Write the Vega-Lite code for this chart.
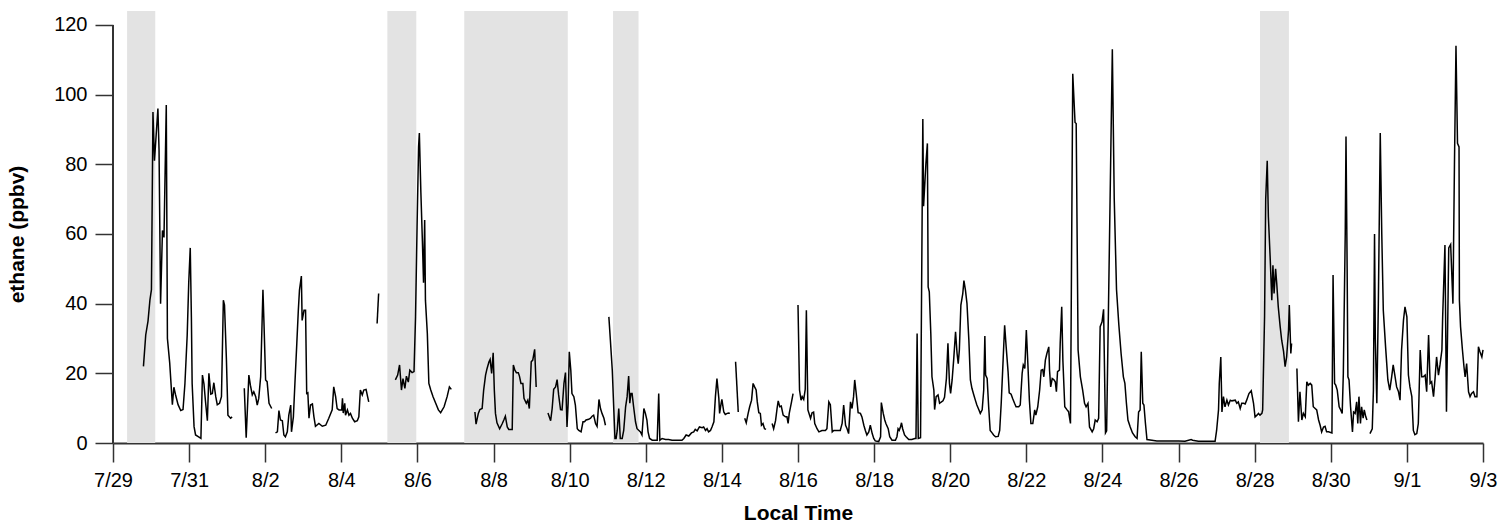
{
  "$schema": "https://vega.github.io/schema/vega-lite/v6.json",
  "width": 1370,
  "height": 432,
  "autosize": {"type": "none"},
  "padding": {"left": 113, "top": 11, "right": 29, "bottom": 84},
  "background": "white",
  "config": {"view": {"stroke": null}, "font": "Liberation Sans"},
  "datasets": {
    "shade": [
      {"start": 0.37, "end": 1.11},
      {"start": 7.21, "end": 7.97},
      {"start": 9.23, "end": 11.95},
      {"start": 13.14, "end": 13.81},
      {"start": 30.14, "end": 30.9}
    ],
    "yline": [{"day": 0, "lo": 0, "hi": 120}],
    "ethane": [
      {"seg":1,"day":0.80,"ppbv":22},{"seg":1,"day":0.86,"ppbv":31},{"seg":1,"day":0.92,"ppbv":35},{"seg":1,"day":0.97,"ppbv":41},{"seg":1,"day":1.01,"ppbv":44},{"seg":1,"day":1.05,"ppbv":95},{"seg":1,"day":1.09,"ppbv":81},{"seg":1,"day":1.18,"ppbv":96},{"seg":1,"day":1.21,"ppbv":84},{"seg":1,"day":1.25,"ppbv":40},{"seg":1,"day":1.30,"ppbv":61},{"seg":1,"day":1.34,"ppbv":59},{"seg":1,"day":1.40,"ppbv":97},{"seg":1,"day":1.43,"ppbv":30},{"seg":1,"day":1.49,"ppbv":23},{"seg":1,"day":1.56,"ppbv":11},{"seg":1,"day":1.60,"ppbv":16},{"seg":1,"day":1.64,"ppbv":14},{"seg":1,"day":1.71,"ppbv":11},{"seg":1,"day":1.78,"ppbv":9.3},{"seg":1,"day":1.84,"ppbv":9.6},{"seg":1,"day":1.89,"ppbv":17},{"seg":1,"day":1.95,"ppbv":31},{"seg":1,"day":1.99,"ppbv":46},{"seg":1,"day":2.03,"ppbv":56},{"seg":1,"day":2.06,"ppbv":36},{"seg":1,"day":2.08,"ppbv":17},{"seg":1,"day":2.13,"ppbv":4.7},{"seg":1,"day":2.17,"ppbv":2.3},{"seg":1,"day":2.24,"ppbv":1.8},{"seg":1,"day":2.31,"ppbv":1.3},{"seg":1,"day":2.35,"ppbv":19.5},{"seg":1,"day":2.39,"ppbv":17},{"seg":1,"day":2.43,"ppbv":12},{"seg":1,"day":2.48,"ppbv":6.4},{"seg":1,"day":2.52,"ppbv":20},{"seg":1,"day":2.57,"ppbv":14},{"seg":1,"day":2.61,"ppbv":14.2},{"seg":1,"day":2.65,"ppbv":17.3},{"seg":1,"day":2.70,"ppbv":13.3},{"seg":1,"day":2.74,"ppbv":11},{"seg":1,"day":2.80,"ppbv":11.4},{"seg":1,"day":2.85,"ppbv":13.3},{"seg":1,"day":2.90,"ppbv":41},{"seg":1,"day":2.93,"ppbv":39.6},{"seg":1,"day":2.98,"ppbv":24},{"seg":1,"day":3.02,"ppbv":8},{"seg":1,"day":3.09,"ppbv":7.1},{"seg":1,"day":3.13,"ppbv":7.5},
      {"seg":2,"day":3.45,"ppbv":15.7},{"seg":2,"day":3.50,"ppbv":1.5},{"seg":2,"day":3.57,"ppbv":19.5},{"seg":2,"day":3.61,"ppbv":16.6},{"seg":2,"day":3.66,"ppbv":13.8},{"seg":2,"day":3.70,"ppbv":14.7},{"seg":2,"day":3.75,"ppbv":13.3},{"seg":2,"day":3.79,"ppbv":10.9},{"seg":2,"day":3.83,"ppbv":12.8},{"seg":2,"day":3.88,"ppbv":19},{"seg":2,"day":3.94,"ppbv":44},{"seg":2,"day":3.97,"ppbv":33.4},{"seg":2,"day":4.01,"ppbv":18.1},{"seg":2,"day":4.05,"ppbv":17.6},{"seg":2,"day":4.10,"ppbv":11.4},{"seg":2,"day":4.17,"ppbv":9.9},
      {"seg":3,"day":4.27,"ppbv":2.9},{"seg":3,"day":4.32,"ppbv":3.2},{"seg":3,"day":4.36,"ppbv":9.3},{"seg":3,"day":4.40,"ppbv":6.6},{"seg":3,"day":4.45,"ppbv":6.4},{"seg":3,"day":4.49,"ppbv":2.3},{"seg":3,"day":4.53,"ppbv":1.8},{"seg":3,"day":4.58,"ppbv":3.2},{"seg":3,"day":4.62,"ppbv":8},{"seg":3,"day":4.67,"ppbv":10.9},{"seg":3,"day":4.69,"ppbv":3.2},{"seg":3,"day":4.74,"ppbv":7.5},{"seg":3,"day":4.78,"ppbv":17.1},{"seg":3,"day":4.83,"ppbv":28.6},{"seg":3,"day":4.87,"ppbv":38.1},{"seg":3,"day":4.90,"ppbv":43.9},{"seg":3,"day":4.95,"ppbv":47.9},{"seg":3,"day":4.97,"ppbv":35.2},{"seg":3,"day":5.02,"ppbv":38.1},{"seg":3,"day":5.06,"ppbv":38.1},{"seg":3,"day":5.09,"ppbv":14.2},{"seg":3,"day":5.12,"ppbv":14.4},{"seg":3,"day":5.15,"ppbv":7.1},{"seg":3,"day":5.19,"ppbv":10.9},{"seg":3,"day":5.24,"ppbv":11.2},{"seg":3,"day":5.28,"ppbv":7.5},{"seg":3,"day":5.32,"ppbv":4.8},{"seg":3,"day":5.41,"ppbv":5.6},{"seg":3,"day":5.50,"ppbv":4.8},{"seg":3,"day":5.59,"ppbv":5.1},{"seg":3,"day":5.67,"ppbv":7.1},{"seg":3,"day":5.76,"ppbv":9.5},{"seg":3,"day":5.80,"ppbv":16.1},{"seg":3,"day":5.85,"ppbv":13.3},{"seg":3,"day":5.89,"ppbv":9.9},{"seg":3,"day":5.94,"ppbv":9.5},{"seg":3,"day":6.01,"ppbv":9.5},{"seg":3,"day":6.03,"ppbv":12.8},{"seg":3,"day":6.05,"ppbv":8.6},{"seg":3,"day":6.09,"ppbv":11.4},{"seg":3,"day":6.11,"ppbv":8},{"seg":3,"day":6.16,"ppbv":9.5},{"seg":3,"day":6.20,"ppbv":8},{"seg":3,"day":6.24,"ppbv":8.5},{"seg":3,"day":6.29,"ppbv":7.1},{"seg":3,"day":6.35,"ppbv":6.1},{"seg":3,"day":6.42,"ppbv":6.4},{"seg":3,"day":6.46,"ppbv":7.5},{"seg":3,"day":6.50,"ppbv":15.2},{"seg":3,"day":6.55,"ppbv":13.8},{"seg":3,"day":6.59,"ppbv":15.2},{"seg":3,"day":6.65,"ppbv":15.4},{"seg":3,"day":6.69,"ppbv":13.3},{"seg":3,"day":6.72,"ppbv":11.8},
      {"seg":4,"day":6.94,"ppbv":34.3},{"seg":4,"day":6.98,"ppbv":42.9},
      {"seg":5,"day":7.42,"ppbv":18.1},{"seg":5,"day":7.48,"ppbv":19.5},{"seg":5,"day":7.53,"ppbv":22.4},{"seg":5,"day":7.58,"ppbv":15.2},{"seg":5,"day":7.62,"ppbv":18.5},{"seg":5,"day":7.67,"ppbv":15.7},{"seg":5,"day":7.71,"ppbv":19.2},{"seg":5,"day":7.76,"ppbv":17.5},{"seg":5,"day":7.80,"ppbv":20.9},{"seg":5,"day":7.86,"ppbv":20.2},{"seg":5,"day":7.91,"ppbv":20.5},{"seg":5,"day":7.95,"ppbv":36.2},{"seg":5,"day":7.99,"ppbv":62},{"seg":5,"day":8.03,"ppbv":85},{"seg":5,"day":8.05,"ppbv":89},{"seg":5,"day":8.09,"ppbv":72},{"seg":5,"day":8.13,"ppbv":58},{"seg":5,"day":8.16,"ppbv":46},{"seg":5,"day":8.19,"ppbv":64},{"seg":5,"day":8.21,"ppbv":41},{"seg":5,"day":8.26,"ppbv":31.4},{"seg":5,"day":8.30,"ppbv":17.1},{"seg":5,"day":8.35,"ppbv":15.2},{"seg":5,"day":8.41,"ppbv":13.3},{"seg":5,"day":8.48,"ppbv":11.4},{"seg":5,"day":8.55,"ppbv":9.5},{"seg":5,"day":8.61,"ppbv":8.7},{"seg":5,"day":8.70,"ppbv":10.4},{"seg":5,"day":8.78,"ppbv":13.3},{"seg":5,"day":8.84,"ppbv":16.1},{"seg":5,"day":8.89,"ppbv":15.4},
      {"seg":6,"day":9.51,"ppbv":8.9},{"seg":6,"day":9.54,"ppbv":5.4},{"seg":6,"day":9.60,"ppbv":8.5},{"seg":6,"day":9.64,"ppbv":9.6},{"seg":6,"day":9.70,"ppbv":9.9},{"seg":6,"day":9.74,"ppbv":15.2},{"seg":6,"day":9.79,"ppbv":19.5},{"seg":6,"day":9.83,"ppbv":21.4},{"seg":6,"day":9.88,"ppbv":23.3},{"seg":6,"day":9.91,"ppbv":24},{"seg":6,"day":9.95,"ppbv":20},{"seg":6,"day":9.99,"ppbv":25.9},{"seg":6,"day":10.02,"ppbv":15.2},{"seg":6,"day":10.05,"ppbv":8.5},{"seg":6,"day":10.09,"ppbv":5.8},{"seg":6,"day":10.16,"ppbv":4.1},{"seg":6,"day":10.23,"ppbv":5.6},{"seg":6,"day":10.27,"ppbv":6.6},{"seg":6,"day":10.31,"ppbv":7.7},{"seg":6,"day":10.36,"ppbv":4.6},{"seg":6,"day":10.40,"ppbv":3.9},{"seg":6,"day":10.49,"ppbv":3.9},{"seg":6,"day":10.52,"ppbv":22.4},{"seg":6,"day":10.56,"ppbv":20.9},{"seg":6,"day":10.60,"ppbv":20.2},{"seg":6,"day":10.65,"ppbv":20.2},{"seg":6,"day":10.68,"ppbv":19.2},{"seg":6,"day":10.72,"ppbv":17.1},{"seg":6,"day":10.77,"ppbv":17.1},{"seg":6,"day":10.80,"ppbv":12.8},{"seg":6,"day":10.86,"ppbv":11.4},{"seg":6,"day":10.90,"ppbv":12.3},{"seg":6,"day":10.94,"ppbv":9.9},{"seg":6,"day":10.99,"ppbv":23.3},{"seg":6,"day":11.03,"ppbv":23.8},{"seg":6,"day":11.08,"ppbv":26.9},{"seg":6,"day":11.12,"ppbv":16.1},
      {"seg":7,"day":11.43,"ppbv":8.6},{"seg":7,"day":11.50,"ppbv":6.4},{"seg":7,"day":11.54,"ppbv":9.9},{"seg":7,"day":11.58,"ppbv":15.4},{"seg":7,"day":11.63,"ppbv":16.1},{"seg":7,"day":11.67,"ppbv":18.2},{"seg":7,"day":11.71,"ppbv":13.8},{"seg":7,"day":11.76,"ppbv":9.6},{"seg":7,"day":11.80,"ppbv":9.5},{"seg":7,"day":11.85,"ppbv":17.1},{"seg":7,"day":11.89,"ppbv":20.2},{"seg":7,"day":11.93,"ppbv":4.6},{"seg":7,"day":11.96,"ppbv":11.4},{"seg":7,"day":11.99,"ppbv":26.2},{"seg":7,"day":12.03,"ppbv":20.9},{"seg":7,"day":12.06,"ppbv":14.2},{"seg":7,"day":12.11,"ppbv":13.3},{"seg":7,"day":12.15,"ppbv":10.9},{"seg":7,"day":12.20,"ppbv":4.1},{"seg":7,"day":12.24,"ppbv":3.6},{"seg":7,"day":12.30,"ppbv":3.2},{"seg":7,"day":12.35,"ppbv":6.1},{"seg":7,"day":12.39,"ppbv":6.1},{"seg":7,"day":12.43,"ppbv":6.6},{"seg":7,"day":12.50,"ppbv":6.8},{"seg":7,"day":12.55,"ppbv":7.1},{"seg":7,"day":12.59,"ppbv":7.7},{"seg":7,"day":12.63,"ppbv":8},{"seg":7,"day":12.68,"ppbv":5.6},{"seg":7,"day":12.72,"ppbv":4.8},{"seg":7,"day":12.77,"ppbv":12.5},{"seg":7,"day":12.81,"ppbv":9.9},{"seg":7,"day":12.85,"ppbv":8.5},{"seg":7,"day":12.90,"ppbv":7.1},{"seg":7,"day":12.94,"ppbv":5.1},
      {"seg":8,"day":13.03,"ppbv":36.2},{"seg":8,"day":13.07,"ppbv":29.5},{"seg":8,"day":13.12,"ppbv":20.9},{"seg":8,"day":13.16,"ppbv":9.5},{"seg":8,"day":13.19,"ppbv":1.3},{"seg":8,"day":13.22,"ppbv":1.3},{"seg":8,"day":13.25,"ppbv":3.6},{"seg":8,"day":13.29,"ppbv":9.9},{"seg":8,"day":13.33,"ppbv":1.3},{"seg":8,"day":13.38,"ppbv":1.3},{"seg":8,"day":13.42,"ppbv":3.6},{"seg":8,"day":13.47,"ppbv":10.4},{"seg":8,"day":13.51,"ppbv":13.3},{"seg":8,"day":13.55,"ppbv":19.2},{"seg":8,"day":13.58,"ppbv":11.4},{"seg":8,"day":13.61,"ppbv":14.2},{"seg":8,"day":13.64,"ppbv":14.2},{"seg":8,"day":13.68,"ppbv":10.4},{"seg":8,"day":13.73,"ppbv":6.1},{"seg":8,"day":13.77,"ppbv":4.1},{"seg":8,"day":13.82,"ppbv":3.6},{"seg":8,"day":13.86,"ppbv":3.2},{"seg":8,"day":13.90,"ppbv":2.3},{"seg":8,"day":13.95,"ppbv":9.9},{"seg":8,"day":13.99,"ppbv":8.5},{"seg":8,"day":14.03,"ppbv":6.6},{"seg":8,"day":14.06,"ppbv":3.2},{"seg":8,"day":14.10,"ppbv":1.3},{"seg":8,"day":14.17,"ppbv":0.8},{"seg":8,"day":14.24,"ppbv":0.8},{"seg":8,"day":14.30,"ppbv":0.8},{"seg":8,"day":14.34,"ppbv":14.2},{"seg":8,"day":14.37,"ppbv":0.8},{"seg":8,"day":14.43,"ppbv":1.3},{"seg":8,"day":14.52,"ppbv":1.0},{"seg":8,"day":14.60,"ppbv":1.0},{"seg":8,"day":14.69,"ppbv":0.8},{"seg":8,"day":14.78,"ppbv":0.8},{"seg":8,"day":14.87,"ppbv":0.8},{"seg":8,"day":14.95,"ppbv":0.8},{"seg":8,"day":15.00,"ppbv":1.3},{"seg":8,"day":15.06,"ppbv":2.3},{"seg":8,"day":15.13,"ppbv":2.0},{"seg":8,"day":15.20,"ppbv":2.9},{"seg":8,"day":15.26,"ppbv":3.2},{"seg":8,"day":15.30,"ppbv":3.9},{"seg":8,"day":15.35,"ppbv":3.5},{"seg":8,"day":15.41,"ppbv":4.6},{"seg":8,"day":15.48,"ppbv":4.4},{"seg":8,"day":15.52,"ppbv":4.6},{"seg":8,"day":15.57,"ppbv":3.6},{"seg":8,"day":15.61,"ppbv":4.1},{"seg":8,"day":15.65,"ppbv":3.2},{"seg":8,"day":15.70,"ppbv":3.6},{"seg":8,"day":15.74,"ppbv":4.6},{"seg":8,"day":15.79,"ppbv":6.1},{"seg":8,"day":15.83,"ppbv":13.3},{"seg":8,"day":15.87,"ppbv":18.5},{"seg":8,"day":15.92,"ppbv":12.8},{"seg":8,"day":15.94,"ppbv":8.5},{"seg":8,"day":15.98,"ppbv":11.4},{"seg":8,"day":16.00,"ppbv":12.5},{"seg":8,"day":16.05,"ppbv":8.9},{"seg":8,"day":16.09,"ppbv":8.2},{"seg":8,"day":16.14,"ppbv":8.5},{"seg":8,"day":16.18,"ppbv":8.6},{"seg":8,"day":16.21,"ppbv":8.5},
      {"seg":9,"day":16.36,"ppbv":23.3},{"seg":9,"day":16.43,"ppbv":8.9},
      {"seg":10,"day":16.60,"ppbv":7.1},{"seg":10,"day":16.64,"ppbv":5.8},{"seg":10,"day":16.69,"ppbv":8.5},{"seg":10,"day":16.73,"ppbv":10.4},{"seg":10,"day":16.78,"ppbv":12.3},{"seg":10,"day":16.82,"ppbv":17.1},{"seg":10,"day":16.86,"ppbv":16.1},{"seg":10,"day":16.90,"ppbv":15.2},{"seg":10,"day":16.93,"ppbv":11.8},{"seg":10,"day":16.97,"ppbv":8.7},{"seg":10,"day":17.01,"ppbv":8.5},{"seg":10,"day":17.04,"ppbv":5.1},{"seg":10,"day":17.08,"ppbv":5.6},{"seg":10,"day":17.12,"ppbv":4.1},{"seg":10,"day":17.16,"ppbv":3.9},
      {"seg":11,"day":17.32,"ppbv":5.6},{"seg":11,"day":17.36,"ppbv":4.1},{"seg":11,"day":17.41,"ppbv":6.4},{"seg":11,"day":17.45,"ppbv":9.9},{"seg":11,"day":17.48,"ppbv":12.1},{"seg":11,"day":17.52,"ppbv":10.4},{"seg":11,"day":17.56,"ppbv":10.6},{"seg":11,"day":17.61,"ppbv":8},{"seg":11,"day":17.67,"ppbv":7.5},{"seg":11,"day":17.71,"ppbv":7.5},{"seg":11,"day":17.74,"ppbv":5.6},{"seg":11,"day":17.77,"ppbv":8.5},{"seg":11,"day":17.83,"ppbv":11.8},{"seg":11,"day":17.87,"ppbv":14.2},
      {"seg":12,"day":18.00,"ppbv":39.6},{"seg":12,"day":18.04,"ppbv":15.2},{"seg":12,"day":18.08,"ppbv":12.3},{"seg":12,"day":18.11,"ppbv":13.3},{"seg":12,"day":18.15,"ppbv":12.5},{"seg":12,"day":18.19,"ppbv":15.4},{"seg":12,"day":18.22,"ppbv":38.1},{"seg":12,"day":18.26,"ppbv":9.5},{"seg":12,"day":18.33,"ppbv":7.1},{"seg":12,"day":18.37,"ppbv":8.7},{"seg":12,"day":18.41,"ppbv":8.9},{"seg":12,"day":18.44,"ppbv":5.6},{"seg":12,"day":18.50,"ppbv":4.1},{"seg":12,"day":18.55,"ppbv":3.2},{"seg":12,"day":18.63,"ppbv":3.6},{"seg":12,"day":18.72,"ppbv":3.6},{"seg":12,"day":18.76,"ppbv":4.1},{"seg":12,"day":18.81,"ppbv":11.8},{"seg":12,"day":18.85,"ppbv":11.0},{"seg":12,"day":18.90,"ppbv":3.2},{"seg":12,"day":18.94,"ppbv":3.6},{"seg":12,"day":19.03,"ppbv":3.6},{"seg":12,"day":19.11,"ppbv":3.6},{"seg":12,"day":19.16,"ppbv":5.6},{"seg":12,"day":19.20,"ppbv":10.9},{"seg":12,"day":19.25,"ppbv":5.1},{"seg":12,"day":19.29,"ppbv":4.1},{"seg":12,"day":19.33,"ppbv":2.7},{"seg":12,"day":19.38,"ppbv":11.8},{"seg":12,"day":19.42,"ppbv":9.9},{"seg":12,"day":19.46,"ppbv":13.3},{"seg":12,"day":19.49,"ppbv":18.1},{"seg":12,"day":19.53,"ppbv":14.2},{"seg":12,"day":19.58,"ppbv":8.7},{"seg":12,"day":19.64,"ppbv":8.5},{"seg":12,"day":19.68,"ppbv":7.5},{"seg":12,"day":19.73,"ppbv":5.1},{"seg":12,"day":19.77,"ppbv":3.6},{"seg":12,"day":19.81,"ppbv":2.3},{"seg":12,"day":19.86,"ppbv":3.2},{"seg":12,"day":19.90,"ppbv":5.1},{"seg":12,"day":19.95,"ppbv":2.7},{"seg":12,"day":19.99,"ppbv":1.3},{"seg":12,"day":20.03,"ppbv":0.6},{"seg":12,"day":20.12,"ppbv":0.4},{"seg":12,"day":20.17,"ppbv":1.8},{"seg":12,"day":20.19,"ppbv":11.6},{"seg":12,"day":20.24,"ppbv":8.5},{"seg":12,"day":20.28,"ppbv":6.6},{"seg":12,"day":20.31,"ppbv":5.6},{"seg":12,"day":20.37,"ppbv":4.1},{"seg":12,"day":20.41,"ppbv":1.8},{"seg":12,"day":20.47,"ppbv":0.8},{"seg":12,"day":20.56,"ppbv":0.8},{"seg":12,"day":20.60,"ppbv":1.8},{"seg":12,"day":20.63,"ppbv":4.1},{"seg":12,"day":20.66,"ppbv":3.6},{"seg":12,"day":20.69,"ppbv":4.5},{"seg":12,"day":20.72,"ppbv":5.8},{"seg":12,"day":20.75,"ppbv":4.1},{"seg":12,"day":20.80,"ppbv":2.3},{"seg":12,"day":20.84,"ppbv":1.8},{"seg":12,"day":20.91,"ppbv":1.0},{"seg":12,"day":20.99,"ppbv":1.0},{"seg":12,"day":21.07,"ppbv":1.3},{"seg":12,"day":21.10,"ppbv":1.3},{"seg":12,"day":21.13,"ppbv":31.4},{"seg":12,"day":21.16,"ppbv":1.3},{"seg":12,"day":21.22,"ppbv":1.5},{"seg":12,"day":21.28,"ppbv":93},{"seg":12,"day":21.30,"ppbv":68},{"seg":12,"day":21.36,"ppbv":80},{"seg":12,"day":21.40,"ppbv":86},{"seg":12,"day":21.42,"ppbv":44.8},{"seg":12,"day":21.45,"ppbv":43.4},{"seg":12,"day":21.49,"ppbv":31.4},{"seg":12,"day":21.52,"ppbv":19},{"seg":12,"day":21.57,"ppbv":15.2},{"seg":12,"day":21.59,"ppbv":9.6},{"seg":12,"day":21.63,"ppbv":13.3},{"seg":12,"day":21.68,"ppbv":13.8},{"seg":12,"day":21.72,"ppbv":11.4},{"seg":12,"day":21.77,"ppbv":11.8},{"seg":12,"day":21.81,"ppbv":12.1},{"seg":12,"day":21.85,"ppbv":13.1},{"seg":12,"day":21.90,"ppbv":18.5},{"seg":12,"day":21.94,"ppbv":28.6},{"seg":12,"day":21.98,"ppbv":17.1},{"seg":12,"day":22.01,"ppbv":14.2},{"seg":12,"day":22.05,"ppbv":18.1},{"seg":12,"day":22.09,"ppbv":23.8},{"seg":12,"day":22.14,"ppbv":31.9},{"seg":12,"day":22.18,"ppbv":25.7},{"seg":12,"day":22.21,"ppbv":22.8},{"seg":12,"day":22.24,"ppbv":26.7},{"seg":12,"day":22.28,"ppbv":39.6},{"seg":12,"day":22.33,"ppbv":42.9},{"seg":12,"day":22.36,"ppbv":46.6},{"seg":12,"day":22.40,"ppbv":43.9},{"seg":12,"day":22.44,"ppbv":40.1},{"seg":12,"day":22.49,"ppbv":29.5},{"seg":12,"day":22.53,"ppbv":18.1},{"seg":12,"day":22.57,"ppbv":15.7},{"seg":12,"day":22.62,"ppbv":13.8},{"seg":12,"day":22.66,"ppbv":12.3},{"seg":12,"day":22.70,"ppbv":10.9},{"seg":12,"day":22.75,"ppbv":9.6},{"seg":12,"day":22.79,"ppbv":8.5},{"seg":12,"day":22.84,"ppbv":9.5},{"seg":12,"day":22.88,"ppbv":15.2},{"seg":12,"day":22.91,"ppbv":30.7},{"seg":12,"day":22.93,"ppbv":19.5},{"seg":12,"day":22.97,"ppbv":18.5},{"seg":12,"day":23.01,"ppbv":10.4},{"seg":12,"day":23.05,"ppbv":3.6},{"seg":12,"day":23.10,"ppbv":2.9},{"seg":12,"day":23.14,"ppbv":2.3},{"seg":12,"day":23.19,"ppbv":1.8},{"seg":12,"day":23.26,"ppbv":1.9},{"seg":12,"day":23.30,"ppbv":3.6},{"seg":12,"day":23.34,"ppbv":11.4},{"seg":12,"day":23.39,"ppbv":23.8},{"seg":12,"day":23.43,"ppbv":33.8},{"seg":12,"day":23.47,"ppbv":27.6},{"seg":12,"day":23.52,"ppbv":20.5},{"seg":12,"day":23.55,"ppbv":14.4},{"seg":12,"day":23.60,"ppbv":14.0},{"seg":12,"day":23.64,"ppbv":12.8},{"seg":12,"day":23.69,"ppbv":11.4},{"seg":12,"day":23.73,"ppbv":10.4},{"seg":12,"day":23.80,"ppbv":10.4},{"seg":12,"day":23.84,"ppbv":10.9},{"seg":12,"day":23.89,"ppbv":20},{"seg":12,"day":23.92,"ppbv":22.4},{"seg":12,"day":23.96,"ppbv":21.4},{"seg":12,"day":24.00,"ppbv":32.4},{"seg":12,"day":24.04,"ppbv":22.8},{"seg":12,"day":24.08,"ppbv":12.3},{"seg":12,"day":24.12,"ppbv":5.6},{"seg":12,"day":24.17,"ppbv":5.6},{"seg":12,"day":24.22,"ppbv":9.5},{"seg":12,"day":24.25,"ppbv":8},{"seg":12,"day":24.30,"ppbv":10.4},{"seg":12,"day":24.35,"ppbv":15.2},{"seg":12,"day":24.39,"ppbv":20.9},{"seg":12,"day":24.43,"ppbv":21.1},{"seg":12,"day":24.46,"ppbv":19},{"seg":12,"day":24.50,"ppbv":23.8},{"seg":12,"day":24.54,"ppbv":25.7},{"seg":12,"day":24.59,"ppbv":27.6},{"seg":12,"day":24.61,"ppbv":20.9},{"seg":12,"day":24.64,"ppbv":16.1},{"seg":12,"day":24.68,"ppbv":18.5},{"seg":12,"day":24.72,"ppbv":18.2},{"seg":12,"day":24.76,"ppbv":17.6},{"seg":12,"day":24.79,"ppbv":14.7},{"seg":12,"day":24.82,"ppbv":20.5},{"seg":12,"day":24.87,"ppbv":20.9},{"seg":12,"day":24.89,"ppbv":28.6},{"seg":12,"day":24.93,"ppbv":39.1},{"seg":12,"day":24.96,"ppbv":23.8},{"seg":12,"day":25.01,"ppbv":10.4},{"seg":12,"day":25.07,"ppbv":9.5},{"seg":12,"day":25.11,"ppbv":9},{"seg":12,"day":25.16,"ppbv":5.6},{"seg":12,"day":25.22,"ppbv":106},{"seg":12,"day":25.28,"ppbv":92},{"seg":12,"day":25.31,"ppbv":91.7},{"seg":12,"day":25.36,"ppbv":26.7},{"seg":12,"day":25.42,"ppbv":19},{"seg":12,"day":25.48,"ppbv":15.2},{"seg":12,"day":25.53,"ppbv":11.4},{"seg":12,"day":25.57,"ppbv":10.4},{"seg":12,"day":25.62,"ppbv":11.4},{"seg":12,"day":25.66,"ppbv":4.6},{"seg":12,"day":25.73,"ppbv":3.2},{"seg":12,"day":25.77,"ppbv":4.1},{"seg":12,"day":25.81,"ppbv":6.6},{"seg":12,"day":25.86,"ppbv":6.1},{"seg":12,"day":25.90,"ppbv":7.1},{"seg":12,"day":25.94,"ppbv":33.4},{"seg":12,"day":25.99,"ppbv":34.8},{"seg":12,"day":26.03,"ppbv":38.4},{"seg":12,"day":26.08,"ppbv":2.9},{"seg":12,"day":26.11,"ppbv":3.5},{"seg":12,"day":26.26,"ppbv":113},{"seg":12,"day":26.31,"ppbv":70},{"seg":12,"day":26.37,"ppbv":44},{"seg":12,"day":26.43,"ppbv":34},{"seg":12,"day":26.49,"ppbv":25.7},{"seg":12,"day":26.55,"ppbv":19},{"seg":12,"day":26.59,"ppbv":17.1},{"seg":12,"day":26.63,"ppbv":11.4},{"seg":12,"day":26.67,"ppbv":6.6},{"seg":12,"day":26.73,"ppbv":4.6},{"seg":12,"day":26.79,"ppbv":2.9},{"seg":12,"day":26.86,"ppbv":1.8},{"seg":12,"day":26.91,"ppbv":1.3},{"seg":12,"day":26.95,"ppbv":8.9},{"seg":12,"day":26.99,"ppbv":9.5},{"seg":12,"day":27.02,"ppbv":26.2},{"seg":12,"day":27.06,"ppbv":11.4},{"seg":12,"day":27.09,"ppbv":10.9},{"seg":12,"day":27.13,"ppbv":5.6},{"seg":12,"day":27.17,"ppbv":1.0},{"seg":12,"day":27.30,"ppbv":0.8},{"seg":12,"day":27.43,"ppbv":0.6},{"seg":12,"day":27.56,"ppbv":0.6},{"seg":12,"day":28.00,"ppbv":0.6},{"seg":12,"day":28.17,"ppbv":0.5},{"seg":12,"day":28.33,"ppbv":1.0},{"seg":12,"day":28.37,"ppbv":0.8},{"seg":12,"day":28.52,"ppbv":0.5},{"seg":12,"day":28.70,"ppbv":0.5},{"seg":12,"day":28.96,"ppbv":0.5},{"seg":12,"day":29.00,"ppbv":3.6},{"seg":12,"day":29.05,"ppbv":9.5},{"seg":12,"day":29.07,"ppbv":17.1},{"seg":12,"day":29.11,"ppbv":24.7},{"seg":12,"day":29.14,"ppbv":8.9},{"seg":12,"day":29.18,"ppbv":13.3},{"seg":12,"day":29.22,"ppbv":10.4},{"seg":12,"day":29.27,"ppbv":12.3},{"seg":12,"day":29.31,"ppbv":10.9},{"seg":12,"day":29.36,"ppbv":12.3},{"seg":12,"day":29.40,"ppbv":12.1},{"seg":12,"day":29.49,"ppbv":12.3},{"seg":12,"day":29.53,"ppbv":11.4},{"seg":12,"day":29.57,"ppbv":11.8},{"seg":12,"day":29.62,"ppbv":9.9},{"seg":12,"day":29.66,"ppbv":11.4},{"seg":12,"day":29.71,"ppbv":11.4},{"seg":12,"day":29.75,"ppbv":11.2},{"seg":12,"day":29.79,"ppbv":12.3},{"seg":12,"day":29.85,"ppbv":14.2},{"seg":12,"day":29.91,"ppbv":15.0},{"seg":12,"day":29.97,"ppbv":11.4},{"seg":12,"day":30.01,"ppbv":7.5},{"seg":12,"day":30.06,"ppbv":8.0},{"seg":12,"day":30.10,"ppbv":8.5},{"seg":12,"day":30.14,"ppbv":8.0},{"seg":12,"day":30.19,"ppbv":8.5},{"seg":12,"day":30.21,"ppbv":9.5},{"seg":12,"day":30.26,"ppbv":36.2},{"seg":12,"day":30.29,"ppbv":70},{"seg":12,"day":30.33,"ppbv":81},{"seg":12,"day":30.36,"ppbv":65},{"seg":12,"day":30.41,"ppbv":52.5},{"seg":12,"day":30.45,"ppbv":41},{"seg":12,"day":30.48,"ppbv":51},{"seg":12,"day":30.51,"ppbv":42.9},{"seg":12,"day":30.55,"ppbv":50},{"seg":12,"day":30.58,"ppbv":45.8},{"seg":12,"day":30.62,"ppbv":39.1},{"seg":12,"day":30.67,"ppbv":33.4},{"seg":12,"day":30.71,"ppbv":29.5},{"seg":12,"day":30.76,"ppbv":26.2},{"seg":12,"day":30.80,"ppbv":21.9},{"seg":12,"day":30.84,"ppbv":24.7},{"seg":12,"day":30.89,"ppbv":32.4},{"seg":12,"day":30.91,"ppbv":39.6},{"seg":12,"day":30.95,"ppbv":25.7},{"seg":12,"day":30.97,"ppbv":28.6},
      {"seg":13,"day":31.11,"ppbv":21.4},{"seg":13,"day":31.15,"ppbv":6.1},{"seg":13,"day":31.19,"ppbv":14.7},{"seg":13,"day":31.24,"ppbv":6.6},{"seg":13,"day":31.28,"ppbv":8.5},{"seg":13,"day":31.33,"ppbv":7.5},{"seg":13,"day":31.37,"ppbv":17.6},{"seg":13,"day":31.41,"ppbv":16.6},{"seg":13,"day":31.46,"ppbv":17.1},{"seg":13,"day":31.50,"ppbv":16.6},{"seg":13,"day":31.54,"ppbv":10.4},{"seg":13,"day":31.59,"ppbv":9.9},{"seg":13,"day":31.63,"ppbv":9.5},{"seg":13,"day":31.68,"ppbv":6.6},{"seg":13,"day":31.72,"ppbv":5.1},{"seg":13,"day":31.76,"ppbv":3.2},{"seg":13,"day":31.81,"ppbv":4.6},{"seg":13,"day":31.85,"ppbv":4.8},{"seg":13,"day":31.89,"ppbv":3.2},{"seg":13,"day":31.94,"ppbv":3.2},{"seg":13,"day":32.03,"ppbv":2.9},{"seg":13,"day":32.06,"ppbv":48.2},{"seg":13,"day":32.10,"ppbv":17.1},{"seg":13,"day":32.13,"ppbv":16.6},{"seg":13,"day":32.17,"ppbv":15.2},{"seg":13,"day":32.22,"ppbv":10.4},{"seg":13,"day":32.26,"ppbv":9.5},{"seg":13,"day":32.30,"ppbv":8.5},{"seg":13,"day":32.33,"ppbv":20},{"seg":13,"day":32.38,"ppbv":60},{"seg":13,"day":32.40,"ppbv":88},{"seg":13,"day":32.43,"ppbv":50},{"seg":13,"day":32.45,"ppbv":19},{"seg":13,"day":32.48,"ppbv":18.1},{"seg":13,"day":32.52,"ppbv":10.4},{"seg":13,"day":32.57,"ppbv":3.2},{"seg":13,"day":32.60,"ppbv":8.9},{"seg":13,"day":32.64,"ppbv":8.5},{"seg":13,"day":32.68,"ppbv":11.8},{"seg":13,"day":32.71,"ppbv":5.6},{"seg":13,"day":32.74,"ppbv":13.3},{"seg":13,"day":32.78,"ppbv":5.6},{"seg":13,"day":32.81,"ppbv":10.4},{"seg":13,"day":32.85,"ppbv":7.1},{"seg":13,"day":32.88,"ppbv":9.5},{"seg":13,"day":32.92,"ppbv":7.5},{"seg":13,"day":32.95,"ppbv":6.6},
      {"seg":14,"day":33.03,"ppbv":2.7},{"seg":14,"day":33.09,"ppbv":4.1},{"seg":14,"day":33.12,"ppbv":15},{"seg":14,"day":33.15,"ppbv":60},{"seg":14,"day":33.17,"ppbv":30},{"seg":14,"day":33.21,"ppbv":11.4},{"seg":14,"day":33.25,"ppbv":40},{"seg":14,"day":33.30,"ppbv":89},{"seg":14,"day":33.34,"ppbv":60},{"seg":14,"day":33.38,"ppbv":38.1},{"seg":14,"day":33.44,"ppbv":27.6},{"seg":14,"day":33.50,"ppbv":18.1},{"seg":14,"day":33.55,"ppbv":15.2},{"seg":14,"day":33.60,"ppbv":19},{"seg":14,"day":33.64,"ppbv":22.4},{"seg":14,"day":33.69,"ppbv":19},{"seg":14,"day":33.73,"ppbv":16.1},{"seg":14,"day":33.78,"ppbv":14.7},{"seg":14,"day":33.82,"ppbv":12.3},{"seg":14,"day":33.86,"ppbv":26.7},{"seg":14,"day":33.91,"ppbv":35.2},{"seg":14,"day":33.95,"ppbv":39.1},{"seg":14,"day":34.00,"ppbv":36.2},{"seg":14,"day":34.04,"ppbv":19.5},{"seg":14,"day":34.08,"ppbv":16.1},{"seg":14,"day":34.13,"ppbv":13.3},{"seg":14,"day":34.17,"ppbv":3.6},{"seg":14,"day":34.21,"ppbv":2.4},{"seg":14,"day":34.26,"ppbv":2.7},{"seg":14,"day":34.30,"ppbv":5.6},{"seg":14,"day":34.35,"ppbv":26.7},{"seg":14,"day":34.39,"ppbv":19},{"seg":14,"day":34.43,"ppbv":19},{"seg":14,"day":34.48,"ppbv":19.5},{"seg":14,"day":34.52,"ppbv":14.7},{"seg":14,"day":34.57,"ppbv":31},{"seg":14,"day":34.61,"ppbv":17.1},{"seg":14,"day":34.65,"ppbv":17.6},{"seg":14,"day":34.70,"ppbv":13.3},{"seg":14,"day":34.74,"ppbv":18.5},{"seg":14,"day":34.78,"ppbv":24.7},{"seg":14,"day":34.83,"ppbv":19.5},{"seg":14,"day":34.87,"ppbv":22.4},{"seg":14,"day":34.92,"ppbv":26.7},{"seg":14,"day":34.94,"ppbv":36.2},{"seg":14,"day":35.00,"ppbv":56.8},{"seg":14,"day":35.04,"ppbv":9},{"seg":14,"day":35.10,"ppbv":56},{"seg":14,"day":35.15,"ppbv":57},{"seg":14,"day":35.21,"ppbv":40},{"seg":14,"day":35.25,"ppbv":80},{"seg":14,"day":35.29,"ppbv":114},{"seg":14,"day":35.33,"ppbv":86},{"seg":14,"day":35.37,"ppbv":85},{"seg":14,"day":35.38,"ppbv":41},{"seg":14,"day":35.41,"ppbv":33.4},{"seg":14,"day":35.46,"ppbv":26.7},{"seg":14,"day":35.50,"ppbv":21.9},{"seg":14,"day":35.53,"ppbv":19},{"seg":14,"day":35.57,"ppbv":22.8},{"seg":14,"day":35.62,"ppbv":14.7},{"seg":14,"day":35.66,"ppbv":13.3},{"seg":14,"day":35.70,"ppbv":14.2},{"seg":14,"day":35.75,"ppbv":14.7},{"seg":14,"day":35.79,"ppbv":13.3},{"seg":14,"day":35.84,"ppbv":13.3},{"seg":14,"day":35.88,"ppbv":27.6},{"seg":14,"day":35.92,"ppbv":26.2},{"seg":14,"day":35.97,"ppbv":24.7},{"seg":14,"day":36.00,"ppbv":26.7}
    ]
  },
  "layer": [
    {
      "data": {"name": "shade"},
      "mark": {"type": "rect", "color": "#e3e3e3"},
      "encoding": {
        "x": {"field": "start", "type": "quantitative", "title": "Local Time"},
        "x2": {"field": "end"},
        "y": {"datum": 0, "type": "quantitative", "title": "ethane (ppbv)"},
        "y2": {"datum": 124}
      }
    },
    {
      "data": {"name": "ethane"},
      "mark": {"type": "line", "color": "black", "strokeWidth": 1.5},
      "encoding": {
        "x": {
          "field": "day",
          "type": "quantitative",
          "title": "Local Time",
          "scale": {"domain": [0, 36], "nice": false, "zero": false},
          "axis": {
            "values": [0,1,2,3,4,5,6,7,8,9,10,11,12,13,14,15,16,17,18,19,20,21,22,23,24,25,26,27,28,29,30,31,32,33,34,35,36],
            "labelExpr": "datum.value % 2 == 0 ? timeFormat(datetime(2014, 6, 29 + datum.value), '%-m/%-d') : ''",
            "tickSize": {"condition": {"test": "datum.value % 2 == 0", "value": 19}, "value": 10},
            "grid": false,
            "domainColor": "#333333",
            "domainWidth": 2,
            "tickColor": "#333333",
            "tickWidth": 1.5,
            "labelFontSize": 20,
            "labelColor": "black",
            "labelPadding": 8,
            "labelFlush": false,
            "labelOverlap": false,
            "titleFontSize": 21,
            "titleFontWeight": "bold",
            "titleColor": "black",
            "titlePadding": 12
          }
        },
        "y": {
          "field": "ppbv",
          "type": "quantitative",
          "title": "ethane (ppbv)",
          "scale": {"domain": [0, 124], "nice": false},
          "axis": {
            "values": [0,10,20,30,40,50,60,70,80,90,100,110,120],
            "labelExpr": "datum.value % 20 == 0 ? datum.label : ''",
            "tickSize": {"condition": {"test": "datum.value % 20 == 0", "value": 18}, "value": 9},
            "domain": false,
            "grid": false,
            "tickColor": "#333333",
            "tickWidth": 1.5,
            "labelFontSize": 20,
            "labelColor": "black",
            "labelPadding": 8,
            "labelFlush": false,
            "labelOverlap": false,
            "titleFontSize": 21,
            "titleFontWeight": "bold",
            "titleColor": "black",
            "titlePadding": 26,
            "titleY": 223
          }
        },
        "detail": {"field": "seg", "type": "nominal"}
      }
    },
    {
      "data": {"name": "yline"},
      "mark": {"type": "rule", "color": "#333333", "strokeWidth": 2},
      "encoding": {
        "x": {"field": "day", "type": "quantitative", "title": "Local Time"},
        "y": {"field": "lo", "type": "quantitative", "title": "ethane (ppbv)"},
        "y2": {"field": "hi"}
      }
    }
  ]
}
